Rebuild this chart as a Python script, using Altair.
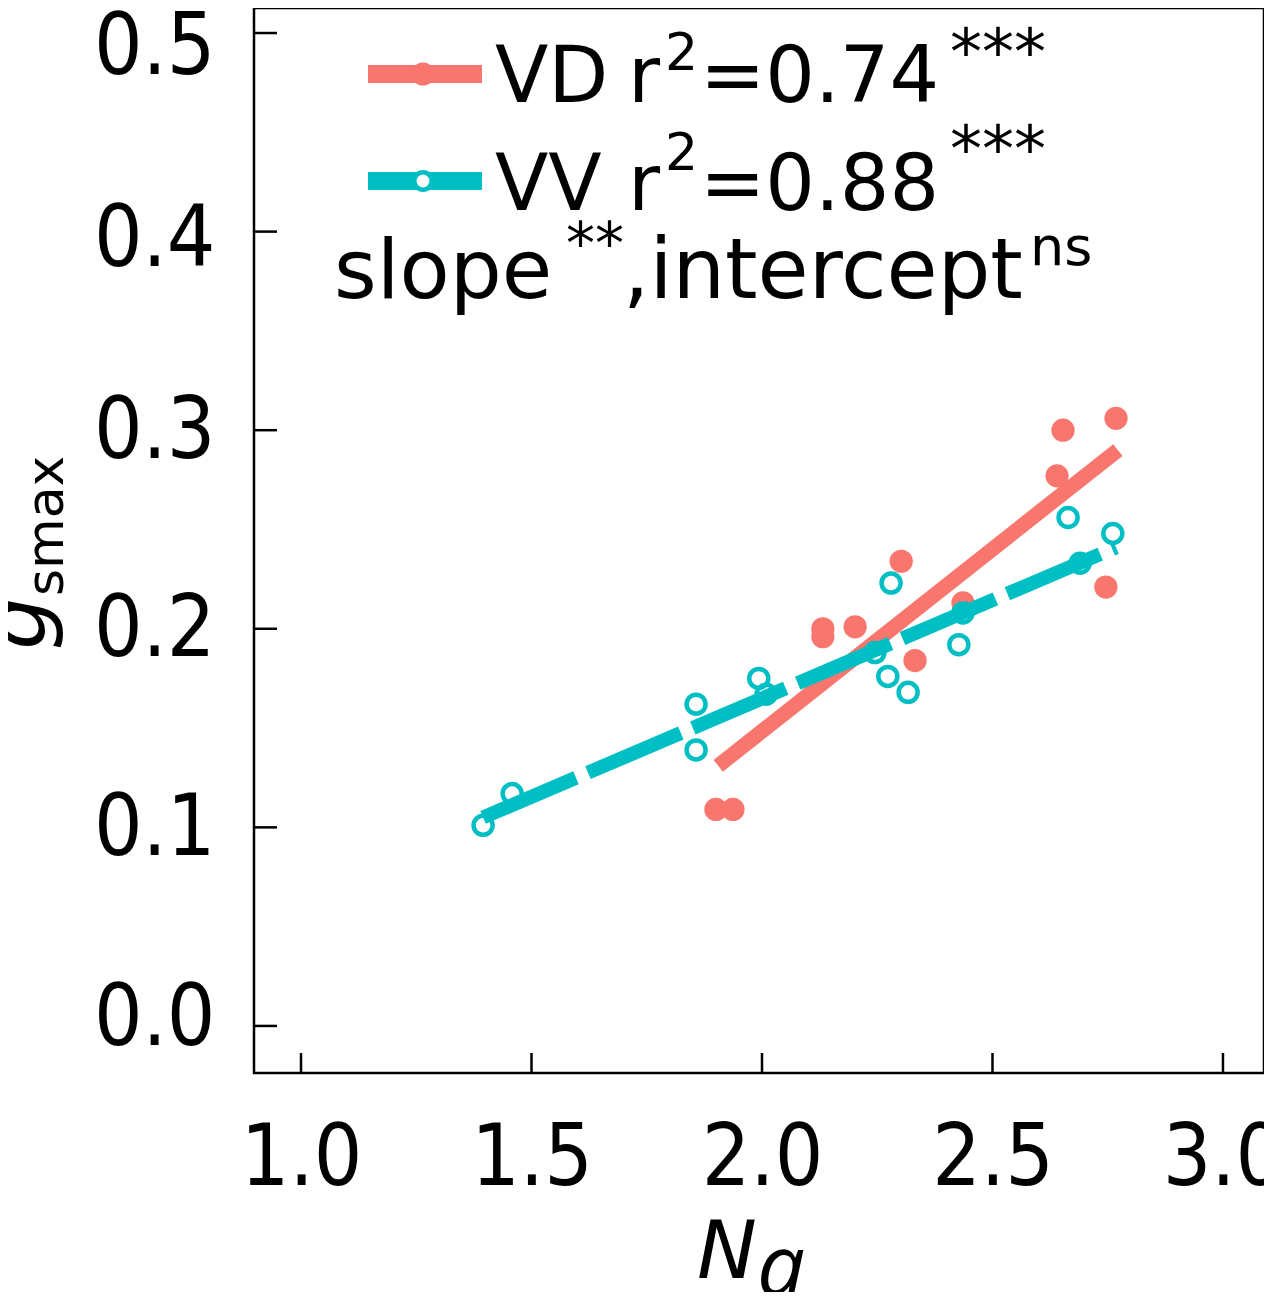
import altair as alt
import pandas as pd

RED = "#F8766D"
CYAN = "#00BFC4"
FONT = "DejaVu Sans"
COND = "DejaVu Sans Condensed, DejaVu Sans"

# ---- data ----
vd_x = [1.900, 1.937, 2.132, 2.132, 2.202, 2.302, 2.332, 2.436, 2.640, 2.653, 2.746, 2.768]
vd_y = [0.109, 0.109, 0.196, 0.200, 0.201, 0.234, 0.184, 0.213, 0.277, 0.300, 0.221, 0.306]

vv_x = [1.395, 1.458, 1.857, 1.857, 1.993, 2.009, 2.245, 2.273, 2.280, 2.317, 2.427, 2.436, 2.664, 2.690, 2.761]
vv_y = [0.101, 0.117, 0.162, 0.139, 0.175, 0.167, 0.188, 0.176, 0.223, 0.168, 0.192, 0.208, 0.256, 0.233, 0.248]

# fitted lines (end points)
vd_line_x = [1.905, 2.772]
vd_line_y = [0.131, 0.290]
vv_line_x = [1.395, 2.768]
vv_line_y = [0.105, 0.241]

x_ticks = [1.0, 1.5, 2.0, 2.5, 3.0]
y_ticks = [0.0, 0.1, 0.2, 0.3, 0.4, 0.5]

W, H = 1010, 1065

vd = pd.DataFrame({"x": vd_x, "y": vd_y})
vv = pd.DataFrame({"x": vv_x, "y": vv_y})
vd_line = pd.DataFrame({"x": vd_line_x, "y": vd_line_y})
vv_line = pd.DataFrame({"x": vv_line_x, "y": vv_line_y})
xt = pd.DataFrame({"x": x_ticks})
yt = pd.DataFrame({"y": y_ticks})
one = pd.DataFrame({"k": [0]})

x_scale = alt.Scale(domain=[0.898, 3.089], nice=False, zero=False)
y_scale = alt.Scale(domain=[-0.0237, 0.5126], nice=False, zero=False)
x_axis = alt.Axis(values=x_ticks, format=".1f", title=None, grid=False, domain=False,
                  ticks=False, tickSize=0, labelFont=COND, labelFontSize=85,
                  labelPadding=44, labelColor="black", labelFlush=False, labelOverlap=False)
y_axis = alt.Axis(values=y_ticks, format=".1f", title=None, grid=False, domain=False,
                  ticks=False, tickSize=0, labelFont=COND, labelFontSize=85,
                  labelPadding=39, labelColor="black", labelFlush=False, labelOverlap=False,
                  labelOffset={"condition": [
                      {"test": "datum.value > 0.45", "value": 14},
                      {"test": "datum.value > 0.35", "value": 8},
                      {"test": "datum.value < 0.05", "value": -7}],
                      "value": 1})

X = alt.X("x:Q", scale=x_scale, axis=x_axis)
Y = alt.Y("y:Q", scale=y_scale, axis=y_axis)

vd_pts = alt.Chart(vd).mark_circle(size=540, color=RED, opacity=1).encode(x=X, y=Y)
vd_ln = alt.Chart(vd_line).mark_line(color=RED, strokeWidth=15, strokeCap="butt").encode(x=X, y=Y)
vv_pts = alt.Chart(vv).mark_point(shape="circle", filled=False, size=361, strokeWidth=4.5,
                                  color=CYAN, opacity=1).encode(x=X, y=Y)
vv_ln = alt.Chart(vv_line).mark_line(color=CYAN, strokeWidth=14, strokeCap="butt",
                                     strokeDash=[101, 13]).encode(x=X, y=Y)

xtick = alt.Chart(xt).mark_rule(color="black", strokeWidth=2.5).encode(
    x=X, y=alt.value(H), y2=alt.value(H - 20))
ytick = alt.Chart(yt).mark_rule(color="black", strokeWidth=2.5).encode(
    y=Y, x=alt.value(0), x2=alt.value(23))


def txt(s, x, y, size, style="normal", angle=0, font=FONT):
    kw = dict(text=s, font=font, fontSize=size, align="left", baseline="alphabetic",
              color="black", fontStyle=style)
    if angle:
        kw["angle"] = angle
    return alt.Chart(one).mark_text(**kw).encode(x=alt.value(x), y=alt.value(y))


# legend
leg = [
    alt.Chart(one).mark_rule(color=RED, strokeWidth=18, strokeCap="butt").encode(
        x=alt.value(114), x2=alt.value(228), y=alt.value(66)),
    alt.Chart(one).mark_point(shape="circle", filled=True, size=540, color=RED, opacity=1).encode(
        x=alt.value(169), y=alt.value(66)),
    alt.Chart(one).mark_rule(color=CYAN, strokeWidth=18, strokeCap="butt").encode(
        x=alt.value(114), x2=alt.value(228), y=alt.value(173)),
    alt.Chart(one).mark_point(shape="circle", filled=True, fill="white", stroke=CYAN,
                              size=300, strokeWidth=4.5, opacity=1).encode(
        x=alt.value(169), y=alt.value(173)),
    txt("VD", 241, 94, 78), txt("r", 374, 94, 78), txt("2", 411, 62, 52),
    txt("=0.74", 446, 94, 78), txt("***", 696, 66, 64),
    txt("VV", 241, 202, 78), txt("r", 374, 202, 78), txt("2", 411, 162, 52),
    txt("=0.88", 446, 202, 78), txt("***", 696, 163, 64),
    txt("slope", 80, 290, 82), txt("**", 312, 256, 58),
    txt(",intercept", 369, 290, 83), txt("ns", 776, 257, 54),
]

titles = [
    txt("g", -209, 642, 85, style="italic", angle=270),
    txt("smax", -191, 588, 52, angle=270),
    txt("N", 443, 1270, 80, style="italic"),
    txt("a", 503, 1287, 85, style="italic", font="Open Sans, Noto Sans, DejaVu Sans"),
]

chart = alt.layer(vd_pts, vd_ln, vv_pts, vv_ln, xtick, ytick, *leg, *titles).properties(
    width=W, height=H,
    padding={"left": 246, "top": 0, "right": 0, "bottom": 219},
    autosize=alt.AutoSizeParams(type="none"),
    background="white",
).configure_view(stroke="black", strokeWidth=2.5)

chart.save("out.html", embed_options={"renderer": "svg", "actions": False})
